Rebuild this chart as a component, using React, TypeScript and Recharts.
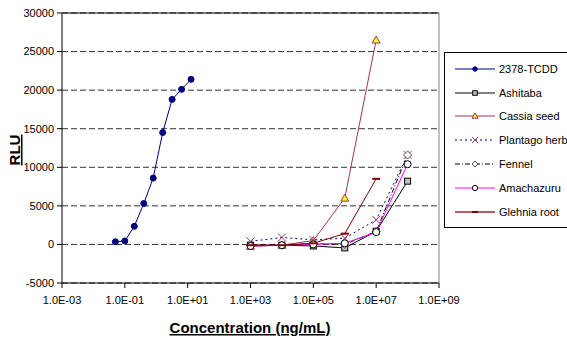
import React from "react";
import {
  LineChart,
  Line,
  XAxis,
  YAxis,
  CartesianGrid,
  ReferenceLine,
  Legend,
} from "recharts";

// concentrations (ng/mL) and responses (RLU)
const tcddConc = [0.05, 0.1, 0.2, 0.4, 0.8, 1.6, 3.2, 6.4, 12.8];
const tcddRlu = [350, 450, 2350, 5300, 8600, 14500, 18800, 20100, 21400];

const herbConc = [1e3, 1e4, 1e5, 1e6, 1e7, 1e8];
const ashitaba = [-100, -100, -200, -450, 1700, 8200];
const cassiaSeed = [-250, -100, 500, 6000, 26500];
const plantagoHerb = [400, 900, 600, 800, 3200, 11600];
const fennel = [-100, -100, 100, 0, 1700, 11600];
const amachazuru = [-200, -100, 0, 150, 1600, 10400];
const glehniaRoot = [-100, -100, 150, 1400, 8500];

const xTicks = [1e-3, 1e-1, 1e1, 1e3, 1e5, 1e7, 1e9];
const yTicks = [-5000, 0, 5000, 10000, 15000, 20000, 25000, 30000];

const toPoints = (xs: number[], ys: number[]) =>
  ys.map((y, i) => ({ x: xs[i], y }));

type Marker = "dot" | "square" | "triangle" | "cross" | "diamond" | "ring" | "dash";

interface Series {
  name: string;
  data: { x: number; y: number }[];
  color: string;
  dash?: string;
  marker: Marker;
}

const series: Series[] = [
  { name: "2378-TCDD", data: toPoints(tcddConc, tcddRlu), color: "#000080", marker: "dot" },
  { name: "Ashitaba", data: toPoints(herbConc, ashitaba), color: "#000000", marker: "square" },
  { name: "Cassia seed", data: toPoints(herbConc, cassiaSeed), color: "#993366", marker: "triangle" },
  { name: "Plantago herb", data: toPoints(herbConc, plantagoHerb), color: "#000080", dash: "2 3", marker: "cross" },
  { name: "Fennel", data: toPoints(herbConc, fennel), color: "#000000", dash: "5 2 1 2", marker: "diamond" },
  { name: "Amachazuru", data: toPoints(herbConc, amachazuru), color: "#ff00ff", marker: "ring" },
  { name: "Glehnia root", data: toPoints(herbConc, glehniaRoot), color: "#800000", marker: "dash" },
];

// k scales the marker (legend uses smaller ones)
const drawMarker = (kind: Marker, cx: number, cy: number, k = 1, key?: string) => {
  switch (kind) {
    case "dot":
      return <circle key={key} cx={cx} cy={cy} r={3 * k} fill="#000080" stroke="#000080" />;
    case "square":
      return <rect key={key} x={cx - 3 * k} y={cy - 3 * k} width={6 * k} height={6 * k} fill="#c0c0c0" stroke="#000" />;
    case "triangle":
      return (
        <polygon
          key={key}
          points={`${cx},${cy - 4 * k} ${cx + 4 * k},${cy + 3 * k} ${cx - 4 * k},${cy + 3 * k}`}
          fill="#ffff00"
          stroke="#993366"
        />
      );
    case "cross":
      return (
        <g key={key} stroke="#993366" strokeWidth={1}>
          <line x1={cx - 4 * k} y1={cy - 4 * k} x2={cx + 4 * k} y2={cy + 4 * k} />
          <line x1={cx - 4 * k} y1={cy + 4 * k} x2={cx + 4 * k} y2={cy - 4 * k} />
        </g>
      );
    case "diamond":
      return (
        <polygon
          key={key}
          points={`${cx},${cy - 4 * k} ${cx + 4 * k},${cy} ${cx},${cy + 4 * k} ${cx - 4 * k},${cy}`}
          fill="#fff"
          stroke="#555"
        />
      );
    case "ring":
      return <circle key={key} cx={cx} cy={cy} r={3.5 * k} fill="#fff" stroke="#000" />;
    case "dash":
      return <line key={key} x1={cx - 4 * k} y1={cy} x2={cx + 4 * k} y2={cy} stroke="#800000" strokeWidth={2} />;
  }
};

const sci = (v: number) => {
  const e = Math.round(Math.log10(v));
  return `1.0E${e < 0 ? "-" : "+"}${String(Math.abs(e)).padStart(2, "0")}`;
};

const LegendBox = () => (
  <div
    style={{
      border: "1px solid #000",
      background: "#fff",
      width: 130,
      height: 176,
      boxSizing: "border-box",
      paddingTop: 4,
    }}
  >
    {series.map((s) => (
      <div key={s.name} style={{ display: "flex", alignItems: "center", height: 23.8, marginLeft: 8 }}>
        <svg width={44} height={12}>
          <line
            x1={2}
            y1={6}
            x2={42}
            y2={6}
            stroke={s.name === "Glehnia root" ? "#b06060" : s.color}
            strokeWidth={s.name === "Glehnia root" ? 2 : 1}
            strokeDasharray={s.dash}
          />
          {drawMarker(s.marker, 22, 6, 0.75)}
        </svg>
        <span style={{ fontSize: 11, color: "#000", marginLeft: 2 }}>{s.name}</span>
      </div>
    ))}
  </div>
);

export default function App() {
  return (
    <div style={{ position: "absolute", left: 0, top: 0, width: 567, height: 340, overflow: "hidden", background: "#fff" }}>
      <LineChart
        width={567}
        height={340}
        margin={{ top: 13, right: 128, bottom: 0, left: 0 }}
        style={{ fontFamily: "'Liberation Sans', Arial, sans-serif" }}
      >
        <CartesianGrid horizontal vertical={false} stroke="#333" strokeDasharray="6 3" />
        <XAxis
          dataKey="x"
          type="number"
          scale="log"
          domain={[1e-3, 1e9]}
          ticks={xTicks}
          tickFormatter={sci}
          allowDataOverflow
          height={57}
          stroke="#000"
          tickSize={5}
          tickMargin={8}
          tick={{ fontSize: 11, fill: "#000" }}
          label={{
            content: () => (
              <text
                x={250}
                y={333}
                textAnchor="middle"
                fontSize={15}
                fontWeight="bold"
                textDecoration="underline"
                fill="#000"
              >
                Concentration (ng/mL)
              </text>
            ),
          }}
        />
        <YAxis
          type="number"
          domain={[-5000, 30000]}
          ticks={yTicks}
          width={62}
          stroke="#000"
          tickSize={5}
          tickMargin={3}
          tick={{ fontSize: 11, fill: "#000" }}
          label={{
            content: () => (
              <text
                x={20}
                y={150}
                transform="rotate(-90 20 150)"
                textAnchor="middle"
                fontSize={15}
                fontWeight="bold"
                textDecoration="underline"
                fill="#000"
              >
                RLU
              </text>
            ),
          }}
        />
        <ReferenceLine y={30000} stroke="#000" />
        <ReferenceLine x={1e9} stroke="#808080" />
        {series.map((s) => (
          <Line
            key={s.name}
            data={s.data}
            dataKey="y"
            name={s.name}
            type="linear"
            stroke={s.color}
            strokeWidth={1}
            strokeDasharray={s.dash}
            isAnimationActive={false}
            activeDot={false}
            dot={(p: any) => drawMarker(s.marker, p.cx, p.cy, 1, `${s.name}-${p.index}`)}
          />
        ))}
        <Legend
          layout="vertical"
          align="center"
          verticalAlign="middle"
          wrapperStyle={{ left: 444, top: 52, width: 130 }}
          content={() => <LegendBox />}
        />
      </LineChart>
    </div>
  );
}
